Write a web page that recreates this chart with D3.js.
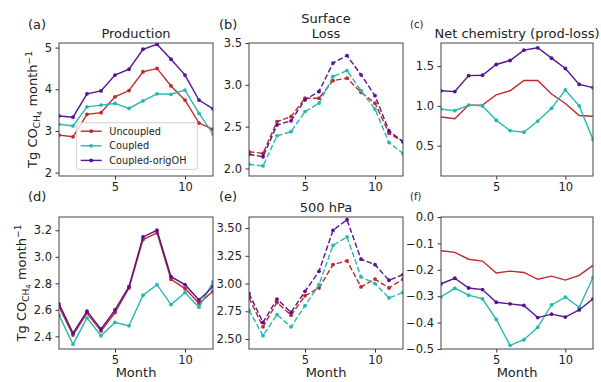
<!DOCTYPE html>
<html>
<head>
<meta charset="utf-8">
<script src="https://cdn.jsdelivr.net/npm/d3@7"></script>
<style>
  body { margin: 0; background: #fff; }
  svg { display: block; font-family: "DejaVu Sans", sans-serif; }
</style>
</head>
<body>
<svg id="chart" width="601" height="382"></svg>
<script>
// monthly CO from CH4, three model configurations
const months = d3.range(1, 13);
const seriesNames = ['Uncoupled', 'Coupled', 'Coupled-origOH'];
const seriesColors = ['#c0272d', '#26b8b0', '#561293'];

// (a) Production
const prodUncoupled = [2.90, 2.86, 3.40, 3.44, 3.82, 3.97, 4.42, 4.50, 4.08, 3.74, 3.19, 3.04];
const prodCoupled   = [3.16, 3.12, 3.58, 3.62, 3.66, 3.54, 3.72, 3.89, 3.88, 3.98, 3.42, 2.93];
const prodOrigOH    = [3.36, 3.33, 3.89, 3.96, 4.34, 4.48, 4.96, 5.08, 4.72, 4.34, 3.74, 3.53];
// (b) Surface loss
const lossUncoupled = [2.20, 2.18, 2.56, 2.62, 2.84, 2.84, 3.05, 3.08, 2.91, 2.78, 2.42, 2.32];
const lossCoupled   = [2.05, 2.03, 2.39, 2.44, 2.68, 2.78, 3.10, 3.17, 2.93, 2.71, 2.31, 2.18];
const lossOrigOH    = [2.17, 2.14, 2.52, 2.57, 2.82, 2.92, 3.26, 3.35, 3.12, 2.87, 2.45, 2.32];
// (c) Net chemistry
const netUncoupled = [0.86, 0.84, 1.01, 1.01, 1.14, 1.19, 1.32, 1.32, 1.15, 1.03, 0.88, 0.87];
const netCoupled   = [0.96, 0.94, 1.01, 1.00, 0.82, 0.69, 0.67, 0.81, 0.97, 1.20, 1.00, 0.58];
const netOrigOH    = [1.19, 1.18, 1.38, 1.385, 1.52, 1.57, 1.70, 1.73, 1.60, 1.47, 1.27, 1.23];
// (d) Production, 500 hPa
const prod5Uncoupled = [2.625, 2.41, 2.575, 2.44, 2.58, 2.765, 3.13, 3.18, 2.83, 2.76, 2.65, 2.74];
const prod5Coupled   = [2.56, 2.34, 2.54, 2.405, 2.505, 2.48, 2.71, 2.79, 2.64, 2.73, 2.62, 2.81];
const prod5OrigOH    = [2.645, 2.425, 2.59, 2.455, 2.60, 2.775, 3.15, 3.20, 2.85, 2.79, 2.675, 2.775];
// (e) Loss, 500 hPa
const loss5Uncoupled = [2.87, 2.61, 2.83, 2.715, 2.89, 2.96, 3.17, 3.205, 2.97, 3.04, 2.96, 3.04];
const loss5Coupled   = [2.76, 2.53, 2.72, 2.61, 2.80, 2.99, 3.345, 3.42, 3.06, 3.00, 2.87, 2.92];
const loss5OrigOH    = [2.91, 2.65, 2.86, 2.74, 2.93, 3.11, 3.48, 3.575, 3.22, 3.17, 3.03, 3.08];
// (f) Net chemistry, 500 hPa
const net5Uncoupled = [-0.128, -0.134, -0.160, -0.167, -0.212, -0.205, -0.210, -0.236, -0.224, -0.239, -0.221, -0.183];
const net5Coupled   = [-0.302, -0.270, -0.296, -0.310, -0.388, -0.486, -0.465, -0.418, -0.333, -0.304, -0.342, -0.229];
const net5OrigOH    = [-0.253, -0.232, -0.269, -0.275, -0.323, -0.329, -0.335, -0.381, -0.368, -0.379, -0.352, -0.310];

const xTicks = [5, 10];

const panels = [
  { tag: '(a)', title: ['Production'], col: 0, row: 0, y: [1.92, 5.11], ticks: [2, 3, 4, 5], fmt: 'd',
    data: [prodUncoupled, prodCoupled, prodOrigOH], dashed: false, redDots: true, legend: true },
  { tag: '(b)', title: ['Surface', 'Loss'], col: 1, row: 0, y: [1.91, 3.5], ticks: [2.0, 2.5, 3.0, 3.5], fmt: '.1f',
    data: [lossUncoupled, lossCoupled, lossOrigOH], dashed: true, redDots: true },
  { tag: '(c)', title: ['Net chemistry (prod-loss)'], col: 2, row: 0, y: [0.12, 1.79], ticks: [0.5, 1.0, 1.5], fmt: '.1f',
    data: [netUncoupled, netCoupled, netOrigOH], dashed: false, redDots: false, smallTag: true },
  { tag: '(d)', title: [], col: 0, row: 1, y: [2.305, 3.3], ticks: [2.4, 2.6, 2.8, 3.0, 3.2], fmt: '.1f',
    data: [prod5Uncoupled, prod5Coupled, prod5OrigOH], dashed: false, redDots: true },
  { tag: '(e)', title: ['500 hPa'], col: 1, row: 1, y: [2.41, 3.6], ticks: [2.5, 2.75, 3.0, 3.25, 3.5], fmt: '.2f',
    data: [loss5Uncoupled, loss5Coupled, loss5OrigOH], dashed: true, redDots: true },
  { tag: '(f)', title: [], col: 2, row: 1, y: [-0.5, 0], ticks: [0, -0.1, -0.2, -0.3, -0.4, -0.5], fmt: '.1f',
    data: [net5Uncoupled, net5Coupled, net5OrigOH], dashed: false, redDots: false, smallTag: true },
];

const colX = [[59, 213], [249, 403], [441, 593]];
const rowY = [[43, 176], [217, 349]];
const yLabelX = [37, 26]; // bottom row has wider tick labels

const svg = d3.select('#chart');
const fmtMinus = (f) => (v) => d3.format(f)(v).replace('-', '\u2212');

panels.forEach((p, i) => {
  const [x0, x1] = colX[p.col];
  const [y0, y1] = rowY[p.row];
  const x = d3.scaleLinear().domain([1, 12]).range([x0, x1]);
  const y = d3.scaleLinear().domain(p.y).range([y1, y0]);

  const clipId = 'clip' + i;
  svg.append('clipPath').attr('id', clipId)
    .append('rect').attr('x', x0).attr('y', y0).attr('width', x1 - x0).attr('height', y1 - y0);

  const g = svg.append('g');
  const plot = g.append('g').attr('clip-path', `url(#${clipId})`);

  const line = d3.line().x((d, j) => x(months[j])).y((d) => y(d));
  p.data.forEach((vals, s) => {
    plot.append('path')
      .attr('d', line(vals))
      .attr('fill', 'none')
      .attr('stroke', seriesColors[s])
      .attr('stroke-width', 1.4)
      .attr('stroke-dasharray', p.dashed ? '5.5,2.4' : null);
    if (s === 0 && !p.redDots) return;
    plot.selectAll(null).data(vals).enter().append('circle')
      .attr('cx', (d, j) => x(months[j]))
      .attr('cy', (d) => y(d))
      .attr('r', 1.9)
      .attr('fill', seriesColors[s]);
  });

  // axes
  const yAxis = d3.axisLeft(y).tickValues(p.ticks).tickFormat(fmtMinus(p.fmt)).tickSize(3.5).tickPadding(3.5);
  const xAxis = d3.axisBottom(x).tickValues(xTicks).tickFormat(d3.format('d')).tickSize(3.5).tickPadding(3.5);
  const ya = g.append('g').attr('transform', `translate(${x0},0)`).call(yAxis);
  const xa = g.append('g').attr('transform', `translate(0,${y1})`).call(xAxis);
  [ya, xa].forEach((a) => {
    a.select('.domain').remove();
    a.selectAll('line').attr('stroke', '#333');
    a.selectAll('text').attr('fill', '#222').style('font-size', '11.5px').style('font-family', 'DejaVu Sans');
  });

  g.append('rect')
    .attr('x', x0).attr('y', y0).attr('width', x1 - x0).attr('height', y1 - y0)
    .attr('fill', 'none').attr('stroke', '#444').attr('stroke-width', 1);

  // titles
  const cx = (x0 + x1) / 2;
  const baseY = p.row === 0 ? 38 : 211.5;
  p.title.forEach((t, k) => {
    g.append('text')
      .attr('x', cx).attr('y', baseY - (p.title.length - 1 - k) * 15)
      .attr('text-anchor', 'middle').attr('fill', '#222')
      .style('font-size', '13px').text(t);
  });
  const tagX = [28, 219, 410][p.col];
  g.append('text')
    .attr('x', tagX).attr('y', (p.row === 0 ? 29 : 201) - (p.smallTag ? 1 : 0))
    .attr('fill', '#222')
    .style('font-size', p.smallTag ? '10px' : '13px').text(p.tag);

  if (p.col === 0) {
    const yl = g.append('text')
      .attr('transform', `translate(${yLabelX[p.row]},${(y0 + y1) / 2}) rotate(-90)`)
      .attr('text-anchor', 'middle').attr('fill', '#222').style('font-size', '13px');
    yl.append('tspan').text('Tg CO');
    yl.append('tspan').attr('dy', 3).style('font-size', '9px').text('CH');
    yl.append('tspan').attr('dy', 2).style('font-size', '7px').text('4');
    yl.append('tspan').attr('dy', -5).text(' month');
    yl.append('tspan').attr('dy', -5).style('font-size', '9px').text('\u22121');
  }
  if (p.row === 1) {
    g.append('text')
      .attr('x', cx).attr('y', 377)
      .attr('text-anchor', 'middle').attr('fill', '#222')
      .style('font-size', '13px').text('Month');
  }

  if (p.legend) {
    const lg = g.append('g');
    lg.append('rect')
      .attr('x', 76.7).attr('y', 122.7).attr('width', 120.6).attr('height', 46.6).attr('rx', 2)
      .attr('fill', '#fff').attr('fill-opacity', 0.8).attr('stroke', '#d0d0d0');
    seriesNames.forEach((name, s) => {
      const ly = 131.2 + s * 14.6;
      lg.append('line').attr('x1', 80.7).attr('x2', 101.7).attr('y1', ly).attr('y2', ly)
        .attr('stroke', seriesColors[s]).attr('stroke-width', 1.4);
      lg.append('circle').attr('cx', 91.2).attr('cy', ly).attr('r', 1.9).attr('fill', seriesColors[s]);
      lg.append('text').attr('x', 109.3).attr('y', ly).attr('dy', '0.35em')
        .attr('fill', '#222').style('font-size', '9.7px').text(name);
    });
  }
});
</script>
</body>
</html>
